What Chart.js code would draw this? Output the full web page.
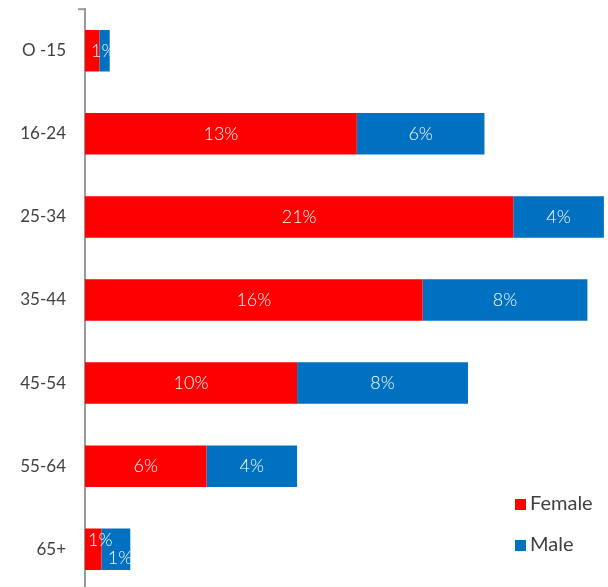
<!DOCTYPE html>
<html>
<head>
<meta charset="utf-8">
<script src="https://cdn.jsdelivr.net/npm/chart.js@4"></script>
<style>
  html, body { margin: 0; padding: 0; background: #fff; overflow: hidden; }
  #wrap { position: relative; width: 608px; height: 587px; overflow: hidden; }
  #chart { position: absolute; left: 0; top: -20px; }
  .legend { position: absolute; left: 515px; font-family: Lato, "Open Sans", sans-serif; font-size: 20px; color: #404040; }
  .legend span { display: inline-block; width: 11px; height: 11px; margin-right: 4px; vertical-align: 0px; }
</style>
</head>
<body>
<div id="wrap">
  <canvas id="chart" width="608" height="640"></canvas>
  <div id="legend"></div>
</div>
<script>
const ageGroups = ["O -15", "16-24", "25-34", "35-44", "45-54", "55-64", "65+"];
const female = [0.7, 13.2, 20.8, 16.4, 10.3, 5.9, 0.8];
const male = [0.5, 6.2, 4.4, 8.0, 8.3, 4.4, 1.4];
const seriesNames = ["Female", "Male"];
const seriesColors = ["#ff0000", "#0070c0"];

const legendBox = document.getElementById("legend");
seriesNames.forEach((name, i) => {
    let d = document.createElement("div");
    d.className = "legend";
    d.style.top = (490 + i * 41) + "px";
    d.innerHTML = '<span style="background:' + seriesColors[i] + '"></span>' + name;
    legendBox.appendChild(d);
});

// white % labels inside the bar segments, clipped to the end of the stack
const barLabels = {
    id: "barLabels",
    afterDatasetsDraw(chart) {
        const ctx = chart.ctx;
        const fm = chart.getDatasetMeta(0).data;
        const mm = chart.getDatasetMeta(1).data;
        const area = chart.chartArea;
        ctx.save();
        // small tick at the top of the category axis
        ctx.strokeStyle = "#999999";
        ctx.lineWidth = 2;
        ctx.beginPath();
        ctx.moveTo(area.left - 7, area.top);
        ctx.lineTo(area.left, area.top);
        ctx.stroke();

        ctx.font = "300 18px Lato, 'Open Sans', sans-serif";
        ctx.fillStyle = "#ffffff";
        ctx.textBaseline = "middle";
        for (let i = 0; i < fm.length; i++) {
            let f = fm[i], m = mm[i];
            let fText = Math.round(female[i]) + "%";
            let mText = Math.round(male[i]) + "%";
            let fw = f.x - f.base, mw = m.x - m.base;
            let tw = ctx.measureText(fText).width;
            ctx.save();
            ctx.beginPath();
            ctx.rect(f.base, f.y - f.height / 2, m.x - f.base, f.height);
            ctx.clip();
            if (fw > tw + 4 && mw > tw + 4) {
                ctx.textAlign = "center";
                ctx.fillText(fText, (f.base + f.x) / 2, f.y);
                ctx.fillText(mText, (m.base + m.x) / 2, m.y);
            } else if (male[i] > female[i]) {
                ctx.textAlign = "left";
                ctx.fillText(fText, f.base + 3, f.y - 9);
                ctx.fillText(mText, m.x - tw + 2, m.y + 9);
            } else {
                ctx.textAlign = "left";
                ctx.fillText(fText, f.base + 6, f.y);
            }
            ctx.restore();
        }
        ctx.restore();
    }
};

new Chart(document.getElementById("chart").getContext("2d"), {
    type: "bar",
    data: {
        labels: ageGroups,
        datasets: [
            { label: seriesNames[0], data: female, backgroundColor: seriesColors[0] },
            { label: seriesNames[1], data: male, backgroundColor: seriesColors[1] }
        ]
    },
    options: {
        indexAxis: "y",
        responsive: false,
        animation: false,
        layout: { padding: { top: 8, bottom: 8, left: 0, right: 0 } },
        datasets: { bar: { barPercentage: 0.5, categoryPercentage: 1.0, borderWidth: 0 } },
        plugins: {
            legend: { display: false },
            tooltip: { enabled: false }
        },
        scales: {
            x: {
                stacked: true,
                min: 0,
                max: 25.4,
                display: false
            },
            y: {
                stacked: true,
                grid: { display: false, drawTicks: false },
                border: { display: true, color: "#999999", width: 2 },
                afterFit(scale) { scale.width = 85; },
                ticks: {
                    color: "#404040",
                    padding: 19,
                    font: { family: "Lato, 'Open Sans', sans-serif", size: 17 }
                }
            }
        }
    },
    plugins: [barLabels]
});
</script>
</body>
</html>
